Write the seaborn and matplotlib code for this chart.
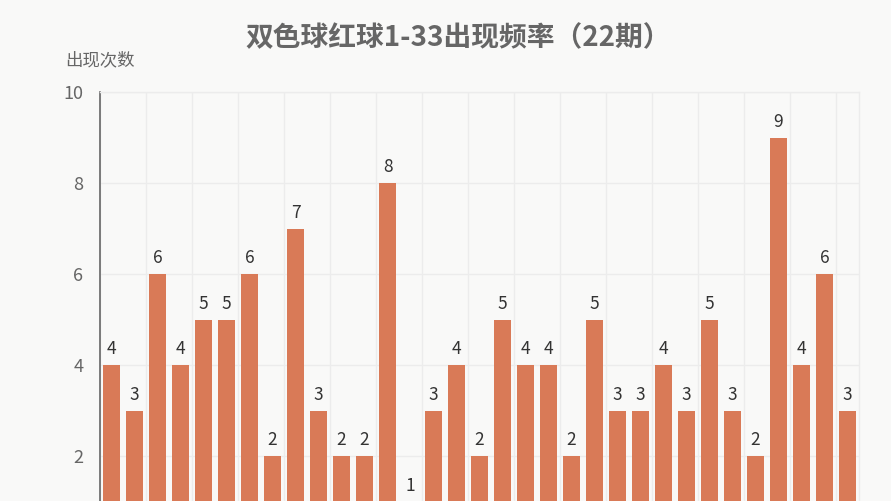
import numpy as np
import pandas as pd
import matplotlib
matplotlib.use("Agg")
import matplotlib.pyplot as plt
import seaborn as sns

balls = [str(i) for i in range(1, 34)]
counts = [4, 3, 6, 4, 5, 5, 6, 2, 7, 3, 2, 2, 8, 1, 3, 4, 2, 5, 4, 4,
          2, 5, 3, 3, 4, 3, 5, 3, 2, 9, 4, 6, 3]
title = "双色球红球1-33出现频率（22期）"
ylabel = "出现次数"

sns.set_theme(style="white")
plt.rcParams['font.family'] = ['Noto Sans CJK SC', 'DejaVu Sans']

bg = "#f9f9f8"
W, H = 891, 501
fig = plt.figure(figsize=(W / 100, H / 100), dpi=100, facecolor=bg)
left, right, top, y0 = 100, 859, 92, 547
ax = fig.add_axes([left / W, (H - y0) / H, (right - left) / W, (y0 - top) / H])
ax.set_facecolor(bg)

df = pd.DataFrame({"ball": balls, "count": counts})
sns.barplot(data=df, x="ball", y="count", order=balls, color="#d97a57",
            saturation=1, width=0.7, linewidth=0, edgecolor="none",
            ax=ax, zorder=3)

ax.set_xlim(-0.5, len(balls) - 0.5)
ax.set_ylim(0, 10)
ax.set_yticks([2, 4, 6, 8, 10])
ax.set_xticks([])
ax.set_xticks(np.arange(-0.5, len(balls), 2), minor=True)
ax.tick_params(axis='x', which='both', length=0, labelbottom=False)
ax.tick_params(axis='y', length=0, pad=12, labelsize=13, labelcolor="#666666")
ax.grid(which='minor', axis='x', color="#ececec", lw=1, zorder=0)
ax.grid(which='major', axis='y', color="#ececec", lw=1, zorder=0)
ax.set_xlabel("")
ax.set_ylabel("")

for s in ['top', 'right', 'bottom']:
    ax.spines[s].set_color("#ececec")
    ax.spines[s].set_linewidth(1)
ax.spines['left'].set_color("#666666")
ax.spines['left'].set_linewidth(1.2)

for c in ax.containers:
    ax.bar_label(c, padding=5, fontsize=12.5, color="#333333")

fig.text(left / W, (H - 60) / H, ylabel, ha='center', va='center',
         fontsize=12.5, color="#666666")
fig.text(458 / W, (H - 38) / H, title, ha='center', va='center',
         fontsize=20, fontweight='bold', color="#666666")

fig.savefig("out.png", dpi=100, facecolor=bg)
